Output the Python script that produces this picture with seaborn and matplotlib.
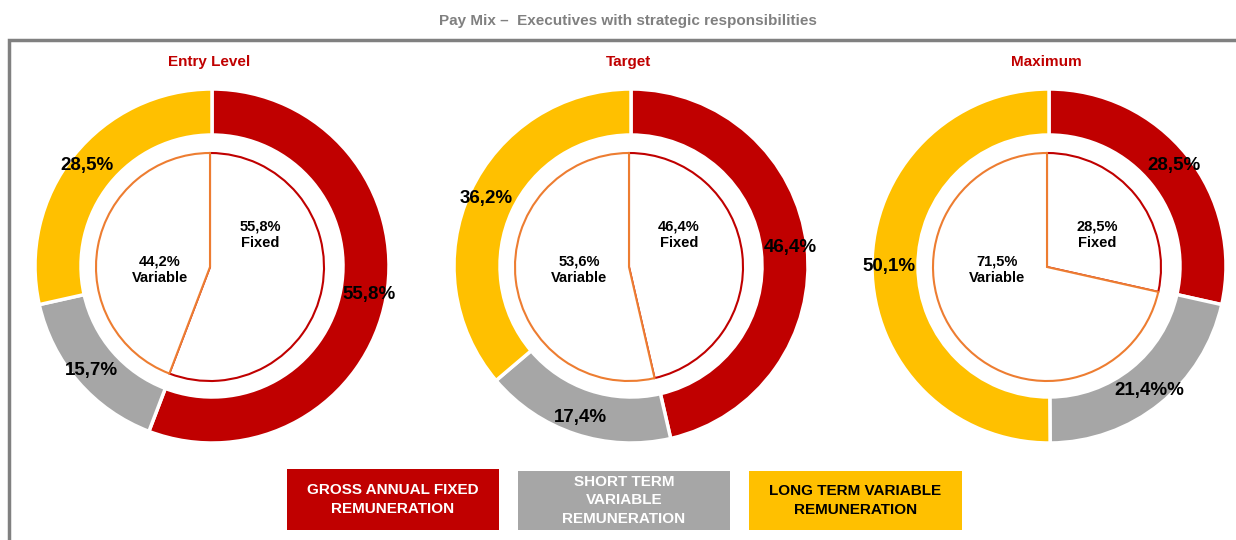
import matplotlib.pyplot as plt
import seaborn as sns
import numpy as np
from matplotlib.patches import Rectangle

# dati
levels = ['Entry Level', 'Target', 'Maximum']
fixed = [55.8, 46.4, 28.5]
short_term = [15.7, 17.4, 21.4]
long_term = [28.5, 36.2, 50.1]
ring_labels = [['55,8%', '15,7%', '28,5%'],
               ['46,4%', '17,4%', '36,2%'],
               ['28,5%', '21,4%%', '50,1%']]
variable = [44.2, 53.6, 71.5]
fixed_labels = ['55,8%\nFixed', '46,4%\nFixed', '28,5%\nFixed']
variable_labels = ['44,2%\nVariable', '53,6%\nVariable', '71,5%\nVariable']
legend_labels = ['GROSS ANNUAL FIXED\nREMUNERATION',
                 'SHORT TERM\nVARIABLE\nREMUNERATION',
                 'LONG TERM VARIABLE\nREMUNERATION']

sns.set_theme(style='white')
plt.rcParams['font.family'] = ['Liberation Sans', 'DejaVu Sans']

RED = '#C00000'
GREY = '#A6A6A6'
YELLOW = '#FFC000'
ORANGE = '#ED7D31'
colors = [RED, GREY, YELLOW]

W, H = 1236, 540
fig = plt.figure(figsize=(12.36, 5.4), dpi=100)
ax = fig.add_axes([0, 0, 1, 1])

centers_x = [212, 631, 1049]
cy = H - 266
R_OUT = 177
RING = 46
R_IN = 114

for i, lvl in enumerate(levels):
    cx = centers_x[i]
    vals = [fixed[i], short_term[i], long_term[i]]
    wedges, _ = ax.pie(vals, colors=colors, startangle=90, counterclock=False,
                       radius=R_OUT, center=(cx, cy),
                       wedgeprops=dict(width=RING, edgecolor='white', linewidth=2.5))
    # etichette anello esterno
    for w, lab in zip(wedges, ring_labels[i]):
        mid = np.deg2rad((w.theta1 + w.theta2) / 2)
        ax.text(cx + 160 * np.cos(mid), cy + 160 * np.sin(mid), lab,
                ha='center', va='center', fontsize=13.5, fontweight='bold', color='black')

    # torta interna fisso / variabile
    pc = (cx - 2, cy - 1)
    inner, _ = ax.pie([fixed[i], variable[i]], colors=['white', 'white'], startangle=90,
                      counterclock=False, radius=R_IN, center=pc,
                      wedgeprops=dict(linewidth=1.5))
    inner[0].set_edgecolor(RED)
    inner[1].set_edgecolor(ORANGE)
    inner[1].set_zorder(inner[0].get_zorder() + 0.1)

    ax.text(cx + 48, cy + 31, fixed_labels[i], ha='center', va='center',
            fontsize=10.5, fontweight='bold', color='black', linespacing=1.2)
    ax.text(cx - 52, cy - 4, variable_labels[i], ha='center', va='center',
            fontsize=10.5, fontweight='bold', color='black', linespacing=1.2)

    ax.text(cx - 3, H - 62, lvl, ha='center', va='center', fontsize=11,
            fontweight='bold', color=RED)

ax.text(628, H - 21, 'Pay Mix \u2013  Executives with strategic responsibilities',
        ha='center', va='center', fontsize=11, fontweight='bold', color='#808080')

# cornice
ax.plot([9, 9, W + 5], [-5, H - 40, H - 40], color='#808080', linewidth=2.5,
        solid_joinstyle='miter')

# legenda
boxes = [(287, 469, 212, 61), (518, 471, 212, 59), (749, 471, 213, 59)]
text_colors = ['white', 'white', 'black']
for (x0, y0, bw, bh), lab, c, tc in zip(boxes, legend_labels, colors, text_colors):
    ax.add_patch(Rectangle((x0, H - y0 - bh), bw, bh, facecolor=c, edgecolor='none'))
    ax.text(x0 + bw / 2, H - y0 - bh / 2, lab, ha='center', va='center',
            fontsize=11, fontweight='bold', color=tc, linespacing=1.4)

ax.set_xlim(0, W)
ax.set_ylim(0, H)
ax.set_aspect('equal')
ax.axis('off')

plt.savefig('out.png', dpi=100)
